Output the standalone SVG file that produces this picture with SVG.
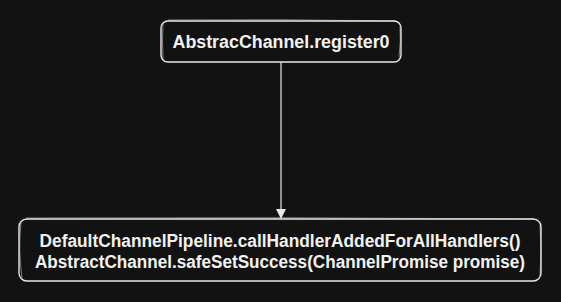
<svg xmlns="http://www.w3.org/2000/svg" width="561" height="302" viewBox="0 0 561 302">
  <defs>
    <style>
      .box { fill: #121212; stroke: #e8e8e8; stroke-width: 1.4; }
      .sketch { fill: none; stroke: #d8d8d8; stroke-width: 0.8; opacity: 0.7; }
      .label { fill: #f2f2f2; font-family: "Liberation Sans", "DejaVu Sans", sans-serif; font-size: 18px; font-weight: bold; text-anchor: middle; }
      .edge { stroke: #e8e8e8; stroke-width: 1.2; fill: none; }
    </style>
    <marker id="arrow" viewBox="0 0 10 10" refX="9" refY="5" markerWidth="10" markerHeight="10" markerUnits="userSpaceOnUse" orient="auto">
      <path d="M0,0 L10,5 L0,10 Z" fill="#e8e8e8"/>
    </marker>
  </defs>
  <rect width="561" height="302" fill="#121212"/>

  <g id="connectors">
    <line class="edge" x1="281" y1="62" x2="281" y2="218" marker-end="url(#arrow)"/>
  </g>

  <g id="node-register">
    <rect class="box" x="161" y="21" width="240" height="41" rx="7"/>
    <path class="sketch" d="M168,20 Q280,19 395,21 M400,26 Q401,42 399,57 M163,60 Q162,40 163,24"/>
    <text class="label" x="281" y="48" textLength="217" lengthAdjust="spacingAndGlyphs">AbstracChannel.register0</text>
  </g>

  <g id="node-pipeline">
    <rect class="box" x="19" y="219" width="522" height="62" rx="8"/>
    <path class="sketch" d="M26,218 Q280,217 534,219 M540,225 Q542,250 540,276 M22,278 Q18,250 21,223"/>
    <text class="label" x="280" y="247" textLength="481" lengthAdjust="spacingAndGlyphs">DefaultChannelPipeline.callHandlerAddedForAllHandlers()</text>
    <text class="label" x="280" y="268" textLength="490" lengthAdjust="spacingAndGlyphs">AbstractChannel.safeSetSuccess(ChannelPromise promise)</text>
  </g>
</svg>
